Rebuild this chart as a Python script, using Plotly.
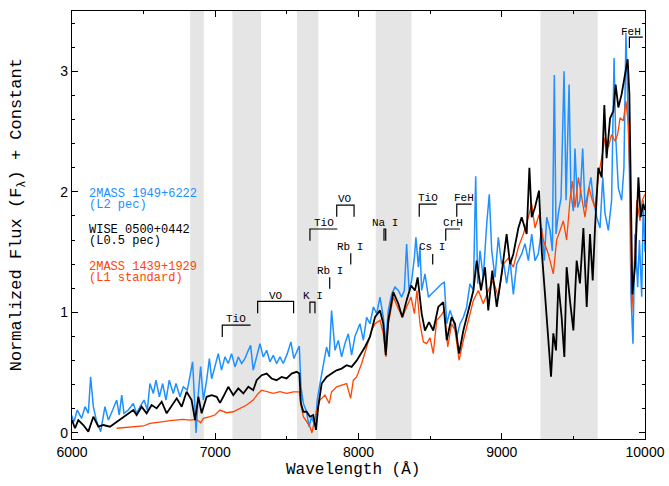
import plotly.graph_objects as go

# ---------------- data ----------------
wave_black = [6000, 6021, 6044, 6079, 6114, 6149, 6184, 6219, 6265, 6312, 6358, 6393, 6428, 6451,
              6486, 6521, 6556, 6591, 6626, 6661, 6684, 6731, 6766, 6800, 6835, 6859, 6882, 6905,
              6940, 6975, 7010, 7033, 7056, 7091, 7126, 7161, 7196, 7231, 7265, 7289, 7324, 7359,
              7393, 7428, 7463, 7498, 7533, 7568, 7587, 7598, 7615, 7638, 7661, 7684, 7703, 7719,
              7743, 7777, 7812, 7847, 7882, 7917, 7952, 7987, 8045, 8080, 8115, 8150, 8173, 8190,
              8208, 8243, 8278, 8306, 8336, 8367, 8394, 8413, 8441, 8464, 8492, 8522, 8557, 8592,
              8616, 8650, 8674, 8702, 8732, 8767, 8802, 8825, 8855, 8883, 8906, 8934, 8965, 8999,
              9034, 9058, 9081, 9116, 9139, 9174, 9193, 9209, 9232, 9260, 9279, 9302, 9321, 9332,
              9344, 9360, 9379, 9395, 9418, 9437, 9453, 9476, 9500, 9523, 9546, 9570, 9593, 9616,
              9635, 9651, 9674, 9698, 9716, 9732, 9756, 9779, 9795, 9814, 9837, 9860, 9879, 9891,
              9902, 9912, 9930, 9954, 9970, 9988, 10000]
flux_black = [0.107, 0.039, 0.107, 0.066, 0.011, 0.135, 0.052, 0.066, 0.052, 0.094, 0.135, 0.163, 0.19, 0.149,
              0.218, 0.163, 0.232, 0.204, 0.259, 0.163, 0.204, 0.287, 0.218, 0.342, 0.273, 0.107, 0.30, 0.163,
              0.30, 0.314, 0.30, 0.25, 0.30, 0.383, 0.314, 0.369, 0.328, 0.383, 0.355, 0.438, 0.479, 0.493,
              0.452, 0.438, 0.465, 0.452, 0.493, 0.507, 0.493, 0.245, 0.176, 0.176, 0.135, 0.149, 0.025, 0.218,
              0.41, 0.465, 0.493, 0.52, 0.534, 0.562, 0.548, 0.60, 0.713, 0.796, 0.96, 1.017, 0.906, 0.645,
              0.934, 1.168, 1.072, 0.96, 1.10, 1.223, 1.182, 1.29, 0.99, 0.85, 0.92, 0.85, 1.045, 1.086,
              0.769, 0.96, 0.906, 0.658, 0.85, 1.017, 1.182, 1.43, 1.182, 1.375, 1.017, 1.347, 1.045, 1.32,
              1.65, 1.40, 1.485, 1.70, 1.79, 1.65, 2.2, 1.79, 1.87, 2.01, 1.51, 1.15, 0.826, 0.66,
              0.466, 0.826, 0.685, 1.24, 0.96, 0.63, 1.375, 1.10, 0.851, 1.43, 1.24, 1.70, 1.045, 1.65,
              1.265, 1.70, 2.2, 2.12, 2.72, 2.28, 2.61, 2.67, 2.89, 2.70, 2.81, 2.97, 3.10, 2.81,
              1.93, 1.15, 1.375, 2.12, 1.79, 1.90, 1.85]

wave_blue = [5991, 6014, 6037, 6067, 6091, 6114, 6130, 6149, 6172, 6200, 6230, 6254, 6284, 6312, 6330,
             6347, 6363, 6393, 6428, 6451, 6475, 6503, 6526, 6544, 6568, 6586, 6610, 6633, 6656, 6679,
             6707, 6726, 6754, 6777, 6805, 6824, 6842, 6859, 6866, 6882, 6898, 6917, 6940, 6959, 6975,
             6991, 7010, 7021, 7044, 7068, 7091, 7114, 7138, 7161, 7184, 7207, 7231, 7247, 7265, 7289,
             7312, 7335, 7359, 7382, 7405, 7428, 7452, 7475, 7503, 7528, 7549, 7573, 7587, 7598, 7615,
             7638, 7654, 7673, 7689, 7703, 7712, 7731, 7754, 7777, 7796, 7812, 7836, 7859, 7882, 7905,
             7929, 7952, 7975, 7994, 8010, 8034, 8057, 8080, 8104, 8127, 8150, 8173, 8190, 8208, 8232,
             8255, 8278, 8301, 8320, 8336, 8353, 8371, 8390, 8401, 8418, 8429, 8441, 8464, 8488, 8511,
             8534, 8557, 8581, 8599, 8616, 8639, 8662, 8685, 8709, 8732, 8755, 8778, 8802, 8818, 8832,
             8848, 8871, 8895, 8913, 8930, 8953, 8976, 8999, 9011, 9034, 9058, 9081, 9104, 9139, 9162,
             9186, 9209, 9232, 9255, 9279, 9297, 9314, 9337, 9353, 9367, 9379, 9395, 9414, 9435, 9449,
             9470, 9483, 9500, 9511, 9530, 9546, 9565, 9581, 9600, 9623, 9639, 9663, 9686, 9705, 9721,
             9744, 9767, 9784, 9795, 9814, 9837, 9853, 9867, 9879, 9891, 9902, 9916, 9930, 9949, 9961,
             9977, 9988, 10000]
flux_blue = [0.163, 0.094, 0.19, 0.121, 0.218, 0.163, 0.466, 0.218, 0.094, 0.011, 0.218, 0.107, 0.19, 0.273, 0.149,
             0.314, 0.163, 0.19, 0.245, 0.163, 0.218, 0.273, 0.19, 0.41, 0.328, 0.438, 0.30, 0.41, 0.273, 0.438,
             0.328, 0.41, 0.30, 0.383, 0.355, 0.466, 0.59, 0.19, 0.0, 0.328, 0.55, 0.273, 0.438, 0.617, 0.45,
             0.52, 0.60, 0.658, 0.521, 0.631, 0.576, 0.658, 0.548, 0.631, 0.576, 0.617, 0.686, 0.727, 0.521, 0.631,
             0.74, 0.631, 0.686, 0.59, 0.645, 0.576, 0.631, 0.576, 0.658, 0.755, 0.617, 0.686, 0.72, 0.383, 0.245,
             0.176, 0.052, 0.135, 0.08, 0.135, 0.273, 0.41, 0.548, 0.713, 0.631, 1.015, 0.686, 0.768, 0.631, 0.74,
             0.823, 0.645, 0.80, 0.851, 0.906, 0.769, 0.96, 0.906, 1.045, 0.99, 1.127, 0.96, 0.741, 1.017, 1.154,
             1.21, 1.182, 1.127, 1.182, 1.567, 1.182, 1.264, 1.457, 1.623, 1.375, 1.54, 1.182, 1.32, 1.127, 1.154,
             1.182, 1.21, 1.237, 1.25, 0.906, 1.017, 0.934, 0.796, 0.906, 0.96, 1.045, 1.237, 1.182, 2.13, 1.237,
             1.512, 1.29, 1.733, 1.98, 1.512, 1.29, 1.623, 1.40, 1.43, 1.24, 1.43, 1.15, 1.40, 1.485, 1.57,
             1.43, 1.65, 1.43, 1.485, 1.70, 1.43, 1.79, 1.68, 1.51, 2.97, 1.65, 1.82, 1.95, 3.0, 1.93,
             2.89, 1.98, 1.84, 2.36, 1.87, 1.93, 2.36, 1.87, 1.98, 2.12, 1.93, 1.79, 1.70, 2.12, 1.82,
             1.68, 1.93, 3.11, 2.47, 2.03, 1.93, 2.2, 3.32, 2.75, 2.2, 1.15, 0.74, 1.65, 1.21, 1.60,
             1.13, 1.93, 1.50]

wave_orange = [6312, 6358, 6405, 6451, 6498, 6544, 6591, 6638, 6684, 6731, 6777, 6824, 6870, 6898, 6917,
               6963, 6998, 7033, 7079, 7126, 7172, 7219, 7265, 7300, 7324, 7359, 7405, 7452, 7498, 7545,
               7587, 7596, 7615, 7638, 7661, 7675, 7689, 7708, 7731, 7766, 7796, 7812, 7847, 7882, 7917,
               7945, 7964, 7987, 8022, 8057, 8092, 8115, 8150, 8173, 8192, 8208, 8243, 8278, 8306, 8336,
               8367, 8390, 8408, 8429, 8453, 8476, 8499, 8522, 8546, 8576, 8599, 8623, 8650, 8674, 8702,
               8732, 8767, 8802, 8837, 8871, 8906, 8941, 8976, 9011, 9046, 9081, 9116, 9151, 9186, 9209,
               9232, 9260, 9290, 9325, 9360, 9383, 9407, 9430, 9453, 9476, 9493, 9511, 9535, 9563, 9581,
               9609, 9632, 9651, 9674, 9698, 9721, 9744, 9767, 9791, 9809, 9826, 9849, 9867, 9884, 9898,
               9907, 9926, 9942, 9965, 9981, 10000]
flux_orange = [0.039, 0.044, 0.052, 0.052, 0.058, 0.08, 0.085, 0.094, 0.102, 0.107, 0.113, 0.107, 0.113, 0.085, 0.121,
               0.135, 0.149, 0.19, 0.168, 0.176, 0.204, 0.232, 0.273, 0.328, 0.355, 0.342, 0.328, 0.342, 0.328, 0.341,
               0.341, 0.245, 0.135, 0.094, 0.052, 0.0, 0.094, 0.19, 0.273, 0.314, 0.245, 0.341, 0.383, 0.396, 0.41,
               0.287, 0.438, 0.465, 0.576, 0.713, 0.851, 0.906, 0.934, 0.824, 0.631, 0.906, 1.127, 1.03, 0.96, 1.045,
               1.127, 0.99, 1.182, 0.906, 0.755, 0.741, 0.79, 0.658, 0.934, 0.975, 1.017, 0.713, 0.906, 0.85, 0.603,
               0.769, 0.934, 1.10, 1.182, 1.072, 1.182, 1.264, 1.127, 1.40, 1.45, 1.375, 1.54, 1.65, 1.79, 1.90,
               1.70, 1.81, 1.60, 1.485, 1.32, 1.60, 1.68, 1.76, 1.60, 1.93, 2.09, 1.87, 2.12, 1.93, 1.79,
               2.036, 1.93, 1.87, 2.12, 2.285, 2.45, 2.37, 2.476, 2.42, 2.476, 2.614, 2.59, 2.75, 2.56, 1.93,
               1.0, 1.375, 1.93, 1.76, 1.93, 1.98]

# telluric regions (Angstrom)
telluric_bands = [(6825, 6920), (7120, 7320), (7570, 7720), (8120, 8370), (9270, 9670)]

# feature labels: text, text x, text y, bracket x, bracket y
features = [
    ("TiO", 7145, 0.945, [7049, 7049, 7247], [0.796, 0.895, 0.895]),
    ("VO", 7422, 1.14, [7296, 7296, 7547, 7547], [0.994, 1.091, 1.091, 0.994]),
    ("K I", 7684, 1.14, [7661, 7661, 7696, 7696], [0.994, 1.085, 1.085, 0.994]),
    ("Rb I", 7801, 1.34, [7799, 7799], [1.196, 1.292]),
    ("Rb I", 7941, 1.54, [7946, 7946], [1.397, 1.49]),
    ("TiO", 7759, 1.742, [7661, 7661, 7852], [1.595, 1.692, 1.692]),
    ("VO", 7908, 1.94, [7848, 7848, 7969, 7969], [1.793, 1.89, 1.89, 1.793]),
    ("Na I", 8185, 1.742, [8178, 8178, 8190, 8190], [1.595, 1.692, 1.692, 1.595]),
    ("TiO", 8483, 1.945, [8424, 8424, 8546], [1.793, 1.898, 1.898]),
    ("FeH", 8736, 1.945, [8686, 8686, 8790], [1.793, 1.898, 1.898]),
    ("CrH", 8657, 1.742, [8609, 8609, 8708], [1.595, 1.692, 1.692]),
    ("Cs I", 8515, 1.54, [8518, 8518], [1.397, 1.485]),
    ("FeH", 9900, 3.33, [9891, 9891, 9985], [3.193, 3.283, 3.283]),
]

legend_names = [("2MASS 1949+6222", "(L2 pec)"),
                ("WISE 0500+0442", "(L0.5 pec)"),
                ("2MASS 1439+1929", "(L1 standard)")]
legend_y = [(1.986, 1.893), (1.683, 1.589), (1.380, 1.287)]

x_ticks = [6000, 7000, 8000, 9000, 10000]
y_ticks = [0, 1, 2, 3]

# ---------------- styling ----------------
BLUE = "#1E90FF"
BLACK = "#000000"
ORANGE = "#FF4500"
MONO = "Liberation Mono, Courier New, monospace"
SANS = "Liberation Sans, Arial, sans-serif"

fig = go.Figure()

fig.add_trace(go.Scatter(x=wave_blue, y=flux_blue, mode="lines",
                         line=dict(color=BLUE, width=1.5), hoverinfo="skip", showlegend=False))
fig.add_trace(go.Scatter(x=wave_orange, y=flux_orange, mode="lines",
                         line=dict(color=ORANGE, width=1.3), hoverinfo="skip", showlegend=False))
fig.add_trace(go.Scatter(x=wave_black, y=flux_black, mode="lines",
                         line=dict(color=BLACK, width=1.8), hoverinfo="skip", showlegend=False))

for (x0, x1) in telluric_bands:
    fig.add_shape(type="rect", xref="x", yref="paper", x0=x0, x1=x1, y0=0, y1=1,
                  fillcolor="#e5e5e5", line=dict(width=0), layer="below")

annotations = []
for (label, tx, ty, bx, by) in features:
    fig.add_trace(go.Scatter(x=bx, y=by, mode="lines", line=dict(color="black", width=1.2),
                             hoverinfo="skip", showlegend=False))
    annotations.append(dict(x=tx, y=ty, xref="x", yref="y", text=label, showarrow=False,
                            xanchor="center", yanchor="middle",
                            font=dict(family=MONO, size=11, color="black")))

for (names, ys, col) in zip(legend_names, legend_y, [BLUE, BLACK, ORANGE]):
    for txt, yy in zip(names, ys):
        annotations.append(dict(x=6103, y=yy, xref="x", yref="y", text=txt, showarrow=False,
                                xanchor="left", yanchor="middle",
                                font=dict(family=MONO, size=12, color=col)))

annotations.append(dict(x=0.49, y=-0.072, xref="paper", yref="paper", text="Wavelength (Å)",
                        showarrow=False, xanchor="center", yanchor="middle",
                        font=dict(family=MONO, size=16, color="black")))
annotations.append(dict(x=-0.094, y=0.523, xref="paper", yref="paper",
                        text="Normalized Flux (F<sub>λ</sub>) + Constant", textangle=-90,
                        showarrow=False, xanchor="center", yanchor="middle",
                        font=dict(family=MONO, size=17, color="black")))

axis_common = dict(showline=True, linecolor="black", linewidth=1.3, mirror="ticks",
                   ticks="inside", ticklen=6, tickwidth=1, tickcolor="black",
                   showgrid=False, zeroline=False, automargin=False,
                   tickfont=dict(family=SANS, size=14, color="black"))

fig.update_layout(
    width=669, height=486,
    margin=dict(l=72, r=24, t=11, b=47),
    paper_bgcolor="white", plot_bgcolor="white",
    annotations=annotations,
    xaxis=dict(range=[6000, 10000], tickvals=x_ticks, ticktext=[str(v) for v in x_ticks],
               minor=dict(dtick=500, ticks="inside", ticklen=3, tickcolor="black"),
               **axis_common),
    yaxis=dict(range=[-0.05, 3.5], tickvals=y_ticks, ticktext=[str(v) for v in y_ticks],
               minor=dict(dtick=0.2, tick0=0, ticks="inside", ticklen=3, tickcolor="black"),
               **axis_common),
)

fig.write_html("out.html", config={"displayModeBar": False},
               post_script="document.body.style.margin='0px';")
